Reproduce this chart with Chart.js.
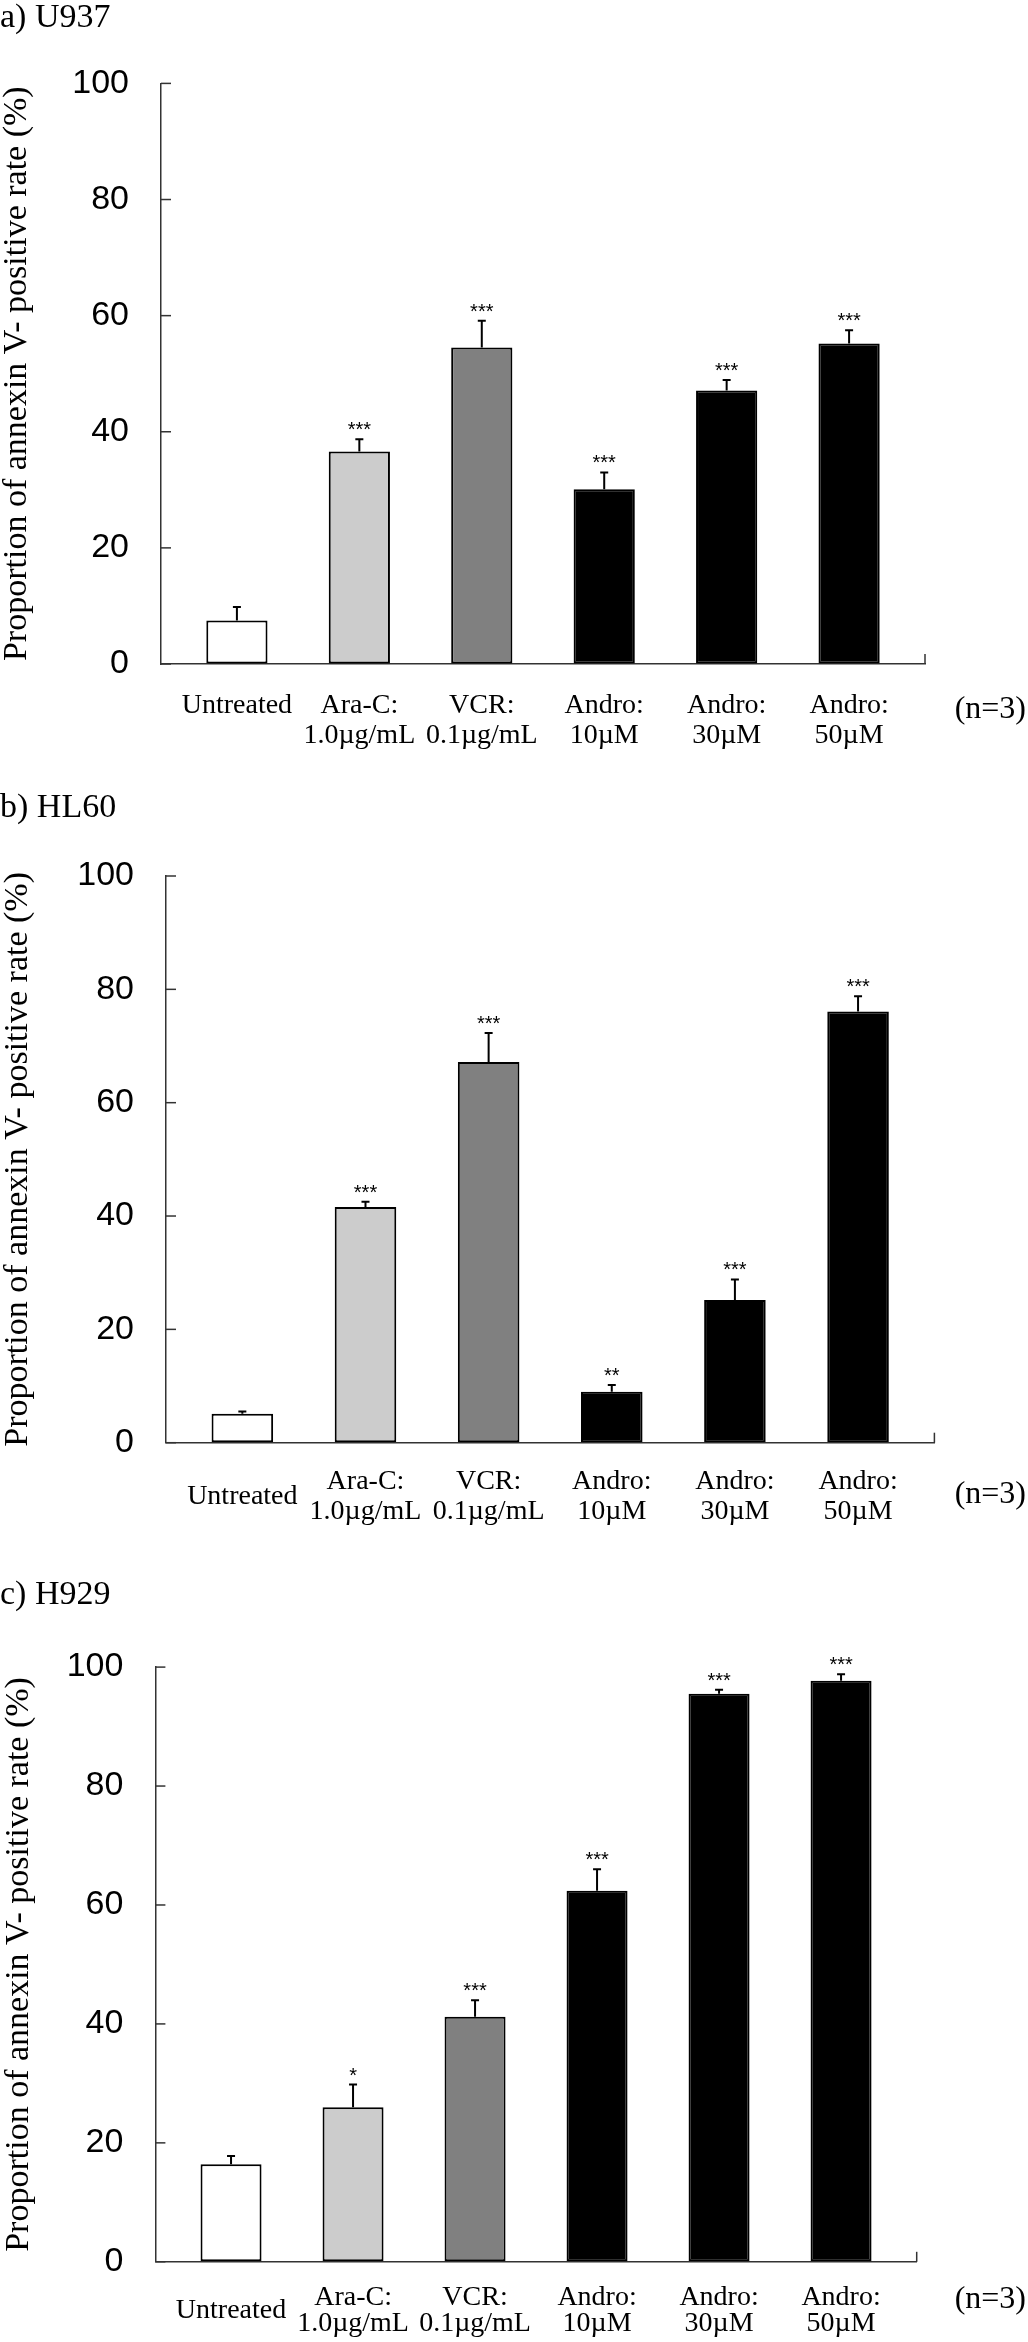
<!DOCTYPE html>
<html>
<head>
<meta charset="utf-8">
<script src="https://cdn.jsdelivr.net/npm/chart.js@4.4.1/dist/chart.umd.min.js"></script>
<style>
  body { margin: 0; background: #fff; }
  canvas { display: block; }
</style>
</head>
<body>
<canvas id="u937" width="1028" height="760"></canvas>
<canvas id="hl60" width="1028" height="790"></canvas>
<canvas id="h929" width="1028" height="792"></canvas>
<script>
// categories shared by the three panels
var categories = ['Untreated', ['Ara-C:', '1.0µg/mL'], ['VCR:', '0.1µg/mL'],
                  ['Andro:', '10µM'], ['Andro:', '30µM'], ['Andro:', '50µM']];

// a) U937
var u937Mean = [7.5, 36.6, 54.5, 30.1, 47.1, 55.2];
var u937Err  = [2.3, 2.1, 4.6, 2.9, 1.8, 2.3];
var u937Sig  = ['', '***', '***', '***', '***', '***'];

// b) HL60
var hl60Mean = [5.1, 41.6, 67.2, 9.0, 25.2, 76.1];
var hl60Err  = [0.4, 0.9, 5.1, 1.2, 3.6, 2.7];
var hl60Sig  = ['', '***', '***', '**', '***', '***'];

// c) H929
var h929Mean = [16.4, 26.0, 41.2, 62.4, 95.5, 97.7];
var h929Err  = [1.4, 3.8, 2.8, 3.6, 0.7, 1.1];
var h929Sig  = ['', '*', '***', '***', '***', '***'];

var yTitle = 'Proportion of annexin V- positive rate (%)';
var nLabel = '(n=3)';
var barColors = ['#ffffff', '#cccccc', '#808080', '#000000', '#000000', '#000000'];

// error bars, significance stars, inner ticks and the n label
var decor = {
  id: 'decor',
  afterDatasetsDraw: function(chart, args, opts) {
    var ctx = chart.ctx, xs = chart.scales.x, ys = chart.scales.y, area = chart.chartArea;
    ctx.save();
    ctx.strokeStyle = '#000';
    ctx.fillStyle = '#000';
    ctx.lineWidth = 2;
    ctx.font = '20px "Liberation Sans"';
    ctx.textAlign = 'center';
    ctx.textBaseline = 'alphabetic';
    opts.means.forEach(function(m, i) {
      var px = xs.getPixelForValue(i);
      var top = ys.getPixelForValue(m);
      var hi = ys.getPixelForValue(m + opts.errs[i]);
      ctx.beginPath();
      ctx.moveTo(px, top);
      ctx.lineTo(px, hi);
      ctx.moveTo(px - 4, hi);
      ctx.lineTo(px + 4, hi);
      ctx.stroke();
      if (opts.sig[i]) ctx.fillText(opts.sig[i], px, hi - 3);
    });

    ctx.strokeStyle = '#333';
    ctx.lineWidth = 1.5;
    ys.ticks.forEach(function(t) {
      var py = ys.getPixelForValue(t.value);
      ctx.beginPath();
      ctx.moveTo(area.left, py);
      ctx.lineTo(area.left + 10, py);
      ctx.stroke();
    });
    ctx.beginPath();
    ctx.moveTo(area.right, area.bottom);
    ctx.lineTo(area.right, area.bottom - 10);
    ctx.stroke();

    ctx.font = '32px "Liberation Serif"';
    ctx.textAlign = 'right';
    ctx.textBaseline = 'middle';
    ctx.fillText(nLabel, chart.width - 2, area.bottom + opts.nOffset);
    ctx.restore();
  }
};

function makeChart(id, title, means, errs, sig, lay) {
  var points = means.map(function(v, i) { return {x: i, y: v}; });
  return new Chart(document.getElementById(id), {
    type: 'bar',
    data: {
      datasets: [{
        data: points,
        backgroundColor: barColors,
        borderColor: '#000',
        borderWidth: 2,
        borderSkipped: false,
        categoryPercentage: 1,
        barPercentage: 0.5
      }]
    },
    options: {
      responsive: false,
      animation: false,
      events: [],
      layout: { padding: { left: 0, right: lay.right, top: 0, bottom: 0 } },
      plugins: {
        legend: { display: false },
        tooltip: { enabled: false },
        title: {
          display: true,
          text: title,
          align: 'start',
          color: '#000',
          font: { family: 'Liberation Serif', size: 34, weight: 'normal', lineHeight: 1 },
          padding: { top: lay.titleTop, bottom: lay.titleBottom }
        },
        decor: { means: means, errs: errs, sig: sig, nOffset: lay.nOffset }
      },
      scales: {
        x: {
          type: 'linear',
          min: -0.62,
          max: 5.62,
          bounds: 'data',
          offset: false,
          grid: { display: true, drawOnChartArea: false, drawTicks: false, offset: false },
          border: { color: '#333', width: 1.5 },
          ticks: {
            autoSkip: false,
            maxRotation: 0,
            padding: lay.labelPad,
            crossAlign: lay.crossAlign,
            color: '#000',
            font: { family: 'Liberation Serif', size: 28, lineHeight: lay.lineHeight },
            callback: function(v) { return categories[v]; }
          },
          // one tick per category, at 0..5
          afterBuildTicks: function(s) {
            s.ticks = categories.map(function(c, i) { return {value: i}; });
          },
          afterFit: function(s) { s.height = lay.xHeight; }
        },
        y: {
          min: 0,
          max: 100,
          grid: { display: true, drawOnChartArea: false, drawTicks: false },
          border: { color: '#333', width: 1.5 },
          ticks: {
            stepSize: 20,
            padding: 32,
            color: '#000',
            font: { family: 'Liberation Sans', size: 34 }
          },
          title: {
            display: true,
            text: yTitle,
            color: '#000',
            font: { family: 'Liberation Serif', size: 34, lineHeight: 1 },
            padding: { top: lay.yTitlePad, bottom: 0 }
          },
          afterFit: function(s) { s.width = lay.yWidth; }
        }
      }
    },
    plugins: [decor]
  });
}

makeChart('u937', 'a) U937', u937Mean, u937Err, u937Sig, {
  titleTop: 1, titleBottom: 48.4, yWidth: 161, xHeight: 96, right: 103,
  labelPad: 27.5, crossAlign: 'near', lineHeight: 1.04, yTitlePad: 0, nOffset: 46
});
makeChart('hl60', 'b) HL60', hl60Mean, hl60Err, hl60Sig, {
  titleTop: 31, titleBottom: 51, yWidth: 166, xHeight: 107.3, right: 93.6,
  labelPad: 38.6, crossAlign: 'center', lineHeight: 1.1, yTitlePad: 1, nOffset: 52
});
makeChart('h929', 'c) H929', h929Mean, h929Err, h929Sig, {
  titleTop: 28, titleBottom: 55.1, yWidth: 155.4, xHeight: 80.2, right: 111.3,
  labelPad: 36, crossAlign: 'center', lineHeight: 0.93, yTitlePad: 2.5, nOffset: 38
});
</script>
</body>
</html>
